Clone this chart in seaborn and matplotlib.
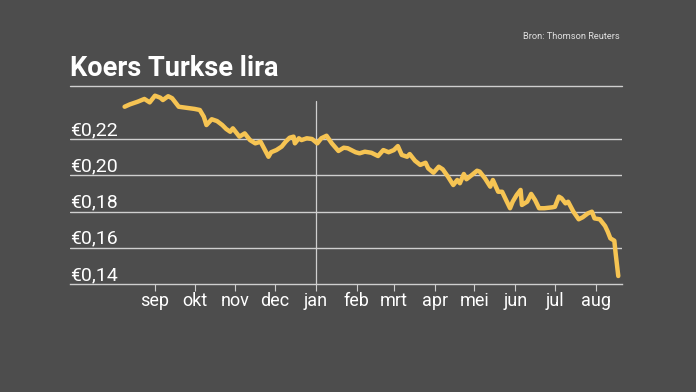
import matplotlib
matplotlib.use("Agg")
import matplotlib.pyplot as plt
import matplotlib.transforms as mtransforms
import seaborn as sns
import pandas as pd

# ---- data ----
dates = [
    "2017-08-09", "2017-08-13", "2017-08-19", "2017-08-24", "2017-08-28", "2017-09-01",
    "2017-09-05", "2017-09-07", "2017-09-11", "2017-09-14", "2017-09-19", "2017-09-24",
    "2017-10-01", "2017-10-05", "2017-10-08", "2017-10-10", "2017-10-14", "2017-10-18",
    "2017-10-22", "2017-10-25", "2017-10-28", "2017-10-30", "2017-11-04", "2017-11-08",
    "2017-11-12", "2017-11-16", "2017-11-20", "2017-11-26", "2017-11-28", "2017-12-02",
    "2017-12-06", "2017-12-09", "2017-12-12", "2017-12-15", "2017-12-16", "2017-12-19",
    "2017-12-21", "2017-12-25", "2017-12-29", "2018-01-02", "2018-01-05", "2018-01-09",
    "2018-01-13", "2018-01-18", "2018-01-22", "2018-01-25", "2018-01-31", "2018-02-03",
    "2018-02-07", "2018-02-12", "2018-02-17", "2018-02-21", "2018-02-25", "2018-03-01",
    "2018-03-04", "2018-03-07", "2018-03-11", "2018-03-13", "2018-03-17", "2018-03-21",
    "2018-03-25", "2018-03-27", "2018-03-31", "2018-04-04", "2018-04-07", "2018-04-11",
    "2018-04-15", "2018-04-18", "2018-04-20", "2018-04-23", "2018-04-25", "2018-04-29",
    "2018-05-03", "2018-05-05", "2018-05-09", "2018-05-13", "2018-05-15", "2018-05-19",
    "2018-05-22", "2018-05-25", "2018-05-28", "2018-05-30", "2018-06-02", "2018-06-05",
    "2018-06-06", "2018-06-10", "2018-06-13", "2018-06-16", "2018-06-19", "2018-06-23",
    "2018-06-29", "2018-07-01", "2018-07-04", "2018-07-06", "2018-07-09", "2018-07-11",
    "2018-07-15", "2018-07-19", "2018-07-22", "2018-07-26", "2018-07-29", "2018-07-31",
    "2018-08-04", "2018-08-08", "2018-08-10", "2018-08-12", "2018-08-15", "2018-08-16",
    "2018-08-18",
]
koers = [
    0.2378, 0.2391, 0.2406, 0.2421, 0.2402, 0.2439,
    0.2428, 0.2415, 0.2436, 0.2425, 0.2378, 0.2373,
    0.2366, 0.2360, 0.2323, 0.2277, 0.2309, 0.2299,
    0.2277, 0.2255, 0.2240, 0.2259, 0.2213, 0.2231,
    0.2194, 0.2176, 0.2185, 0.2102, 0.2127, 0.2139,
    0.2158, 0.2185, 0.2207, 0.2213, 0.2176, 0.2204,
    0.2194, 0.2204, 0.2200, 0.2176, 0.2204, 0.2218,
    0.2176, 0.2134, 0.2152, 0.2149, 0.2127, 0.2121,
    0.2130, 0.2124, 0.2106, 0.2139, 0.2127, 0.2139,
    0.2161, 0.2112, 0.2102, 0.2117, 0.2080, 0.2057,
    0.2069, 0.2038, 0.2014, 0.2047, 0.2033, 0.1992,
    0.1946, 0.1974, 0.1956, 0.2007, 0.1978, 0.2001,
    0.2025, 0.2020, 0.1983, 0.1937, 0.1974, 0.1909,
    0.1909, 0.1863, 0.1818, 0.1854, 0.1891, 0.1919,
    0.1836, 0.1854, 0.1897, 0.1863, 0.1818, 0.1818,
    0.1823, 0.1826, 0.1882, 0.1873, 0.1845, 0.1854,
    0.1799, 0.1757, 0.1768, 0.1790, 0.1799, 0.1762,
    0.1757, 0.1720, 0.1689, 0.1652, 0.1639, 0.1569,
    0.1444,
]
month_ticks = ["2017-09-01", "2017-10-01", "2017-11-01", "2017-12-01", "2018-01-01",
               "2018-02-01", "2018-03-01", "2018-04-01", "2018-05-01", "2018-06-01",
               "2018-07-01", "2018-08-01"]
month_labels = ["sep", "okt", "nov", "dec", "jan", "feb", "mrt", "apr", "mei", "jun",
                "jul", "aug"]
y_levels = [0.14, 0.16, 0.18, 0.20, 0.22]
y_labels = ["€0,14", "€0,16", "€0,18", "€0,20", "€0,22"]
title = "Koers Turkse lira"
source = "Bron: Thomson Reuters"

# ---- style ----
BG = "#4d4d4d"
LINE = "#f6c453"
GRID = "#cfcfcf"
sns.set_style("white", {"axes.facecolor": BG, "figure.facecolor": BG})
plt.rcParams["font.family"] = ["Roboto", "DejaVu Sans"]

df = pd.DataFrame({"datum": pd.to_datetime(dates), "koers": koers})

W, H = 696, 392
fig = plt.figure(figsize=(W / 100, H / 100), dpi=100)
fig.patch.set_facecolor(BG)

left_px, right_px, top_px, bottom_px = 70, 622, 92, 284
ax = fig.add_axes([left_px / W, 1 - bottom_px / H,
                   (right_px - left_px) / W, (bottom_px - top_px) / H])
ax.set_facecolor(BG)

jan1 = pd.Timestamp("2018-01-01")
px_per_day = 1.32
ax.set_xlim(jan1 + pd.Timedelta(days=(left_px - 316) / px_per_day),
            jan1 + pd.Timedelta(days=(right_px - 316) / px_per_day))
ymin = 0.14
ymax = 0.14 + (bottom_px - top_px) / 1812.5
ax.set_ylim(ymin, ymax)

for v in y_levels[1:]:
    ax.axhline(v, color=GRID, lw=1.0, zorder=1)
ax.axvline(pd.Timestamp("2018-01-01"), ymin=0, ymax=(bottom_px - 101) / (bottom_px - top_px),
           color=GRID, lw=0.9, zorder=1)

sns.lineplot(data=df, x="datum", y="koers", ax=ax, color=LINE, lw=3.2, zorder=3,
             clip_on=False)

for s in ["top", "right", "left"]:
    ax.spines[s].set_visible(False)
ax.spines["bottom"].set_color(GRID)
ax.spines["bottom"].set_linewidth(1.0)

ax.set_xticks(pd.to_datetime(month_ticks))
ax.set_xticklabels(month_labels)
ax.tick_params(axis="x", length=5, width=0.8, color=GRID, labelcolor="white",
               labelsize=13, pad=1, bottom=True)
ax.set_yticks([])
ax.set_xlabel("")
ax.set_ylabel("")

trans = mtransforms.blended_transform_factory(ax.transAxes, ax.transData)
off = mtransforms.offset_copy(trans, fig=fig, x=0, y=4, units="dots")
for v, lab in zip(y_levels, y_labels):
    ax.text(0, v, lab, transform=off, ha="left", va="baseline", color="white",
            fontsize=14)

# title, rule, source
fig.text(left_px / W, 1 - 76 / H, title, color="white", fontsize=19.5,
         fontweight="bold", ha="left", va="baseline")
fig.add_artist(plt.Line2D([left_px / W, right_px / W], [1 - 86 / H, 1 - 86 / H],
                          color=GRID, lw=1.0))
fig.text(620 / W, 1 - 39 / H, source, color="#e0e0e0", fontsize=6.7,
         ha="right", va="baseline")

fig.savefig("out.png", dpi=100, facecolor=BG)
